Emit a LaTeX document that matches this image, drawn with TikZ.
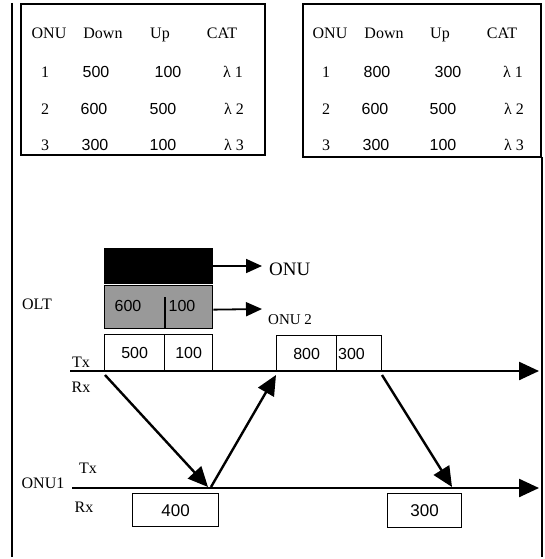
\documentclass[tikz,border=0pt]{standalone}
\usepackage{fontspec}
\setmainfont{Liberation Serif}
\newfontfamily\arialf{Liberation Sans}
\usetikzlibrary{arrows.meta}
\begin{document}
\begin{tikzpicture}[x=1pt,y=-1pt,
  frame/.style={line width=1.8pt},
  tab/.style={draw, line width=2.2pt, anchor=north west, inner sep=0},
  txt/.style={inner sep=0, anchor=base, font=\fontsize{16}{18}\selectfont},
  num/.style={inner sep=0, anchor=base, font=\arialf\fontsize{16}{18}\selectfont},
  cell/.style={draw, line width=1.3pt, anchor=north west, inner sep=0, font=\arialf\fontsize{16}{18}\selectfont},
  bigarrow/.style={line width=2.4pt, -{Triangle[length=20pt,width=18pt]}},
  smallarrow/.style={line width=1.8pt, -{Triangle[length=16pt,width=14pt]}},
]
\useasboundingbox (0,0) rectangle (544,559);
% outer frame
\draw[frame] (12,3) -- (12,557);
\draw[frame] (542,157) -- (542,557);
% tables
\node[tab, minimum width=244pt, minimum height=151pt] (tabL) at (20,3) {};
\node[tab, minimum width=238pt, minimum height=153pt] (tabR) at (302,3) {};
% left table text
\node[txt] (lh1) at (49,39) {ONU};
\node[txt] (lh2) at (103,39) {Down};
\node[txt] (lh3) at (160,39) {Up};
\node[txt] (lh4) at (222,39) {CAT};
\node[txt] (la1) at (45,78) {1};
\node[num] (la2) at (96,78) {500};
\node[num] (la3) at (168,78) {100};
\node[txt] (la4) at (233,78) {λ 1};
\node[txt] (lb1) at (45,114) {2};
\node[num] (lb2) at (94,114) {600};
\node[num] (lb3) at (163,114) {500};
\node[txt] (lb4) at (234,114) {λ 2};
\node[txt] (lc1) at (45,150) {3};
\node[num] (lc2) at (95,150) {300};
\node[num] (lc3) at (163,150) {100};
\node[txt] (lc4) at (234,150) {λ 3};
% right table text
\node[txt] (rh1) at (330,39) {ONU};
\node[txt] (rh2) at (384,39) {Down};
\node[txt] (rh3) at (440,39) {Up};
\node[txt] (rh4) at (502,39) {CAT};
\node[txt] (ra1) at (326,78) {1};
\node[num] (ra2) at (377,78) {800};
\node[num] (ra3) at (448,78) {300};
\node[txt] (ra4) at (513,78) {λ 1};
\node[txt] (rb1) at (326,114) {2};
\node[num] (rb2) at (375,114) {600};
\node[num] (rb3) at (443,114) {500};
\node[txt] (rb4) at (514,114) {λ 2};
\node[txt] (rc1) at (326,150) {3};
\node[num] (rc2) at (376,150) {300};
\node[num] (rc3) at (443,150) {100};
\node[txt] (rc4) at (514,150) {λ 3};
% OLT side
\node[txt] (olt) at (37,309) {OLT};
\node[draw, fill=black, line width=1pt, anchor=north west, minimum width=108pt, minimum height=35pt, inner sep=0] (blk) at (104,248) {};
\node[draw, fill=black!40, line width=1.3pt, anchor=north west, minimum width=108pt, minimum height=43pt, inner sep=0] (gry) at (104,285) {};
\node[num] (g600) at (128,311) {600};
\node[num] (g100) at (182,311) {100};
\coordinate (gdT) at (165,297);
\coordinate (gdB) at (165,328);
\draw[line width=1.6pt] (gdT) -- (gdB);
\coordinate (aE) at (262,266);
\coordinate (gE) at (262,309);
\draw[smallarrow] (blk.east) -- (aE);
\draw[smallarrow] ([yshift=-2.5pt]gry.east) -- (gE);
\node[anchor=base west, inner sep=0, font=\fontsize{19}{21}\selectfont] (onuA) at (269,275) {ONU};
\node[anchor=base west, inner sep=0, font=\fontsize{15}{17}\selectfont] (onuB) at (268,324) {ONU 2};
\node[cell, minimum width=60pt, minimum height=36pt] (c500) at (104,334) {500};
\node[cell, minimum width=48pt, minimum height=36pt] (c100) at (164,334) {100};
\node[txt] (otx) at (81,367) {Tx};
\node[txt] (orx) at (81,392) {Rx};
\coordinate (olS) at (70,371);
\coordinate (olE) at (539,371);
\draw[bigarrow] (olS) -- (olE);
\node[cell, minimum width=60pt, minimum height=36pt] (c800) at (276,335) {800};
\node[cell, minimum width=45pt, minimum height=36pt, text width=42pt, align=left] (c300) at (336,335) {300};
% ONU1 side
\node[txt] (onu1) at (43,488) {ONU1};
\node[txt] (utx) at (88,473) {Tx};
\node[txt] (urx) at (84,512) {Rx};
\coordinate (ulS) at (72,488);
\coordinate (ulE) at (539,488);
\draw[bigarrow] (ulS) -- (ulE);
\node[cell, minimum width=86pt, minimum height=33pt, font=\arialf\fontsize{17}{19}\selectfont] (c400) at (132,493) {400};
\node[cell, minimum width=74pt, minimum height=34pt, font=\arialf\fontsize{17}{19}\selectfont] (d300) at (387,493) {300};
% signal arrows
\coordinate (s1) at (105,375);
\coordinate (t1) at (208,487);
\coordinate (s2) at (211,487);
\coordinate (t2) at (276,375);
\coordinate (s3) at (382,375);
\coordinate (t3) at (452,487);
\draw[bigarrow] (s1) -- (t1);
\draw[bigarrow] (s2) -- (t2);
\draw[bigarrow] (s3) -- (t3);
\end{tikzpicture}
\end{document}
